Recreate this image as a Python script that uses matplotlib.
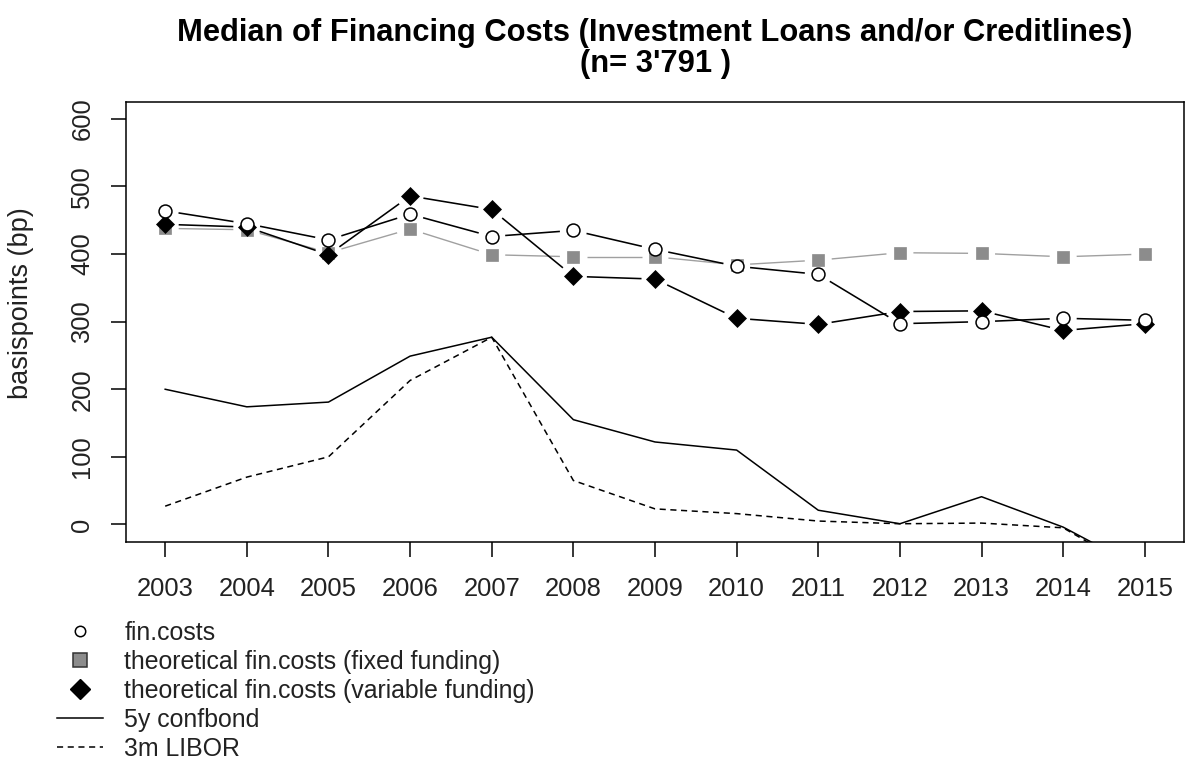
import numpy as np
import matplotlib
matplotlib.use("Agg")
import matplotlib.pyplot as plt
from matplotlib.lines import Line2D

plt.rcParams['font.family'] = ['Liberation Sans', 'DejaVu Sans']

# median costs per year, in basis points
years = list(range(2003, 2016))
fin_costs = [464, 445, 421, 459, 426, 435, 407, 382, 370, 297, 300, 305, 302]
fixed_funding = [438, 436, 402, 437, 399, 396, 396, 384, 391, 402, 401, 396, 400]
variable_funding = [444, 440, 399, 486, 466, 367, 363, 305, 296, 315, 316, 287, 297]
confbond_5y = [200, 174, 181, 249, 277, 155, 122, 110, 21, 1, 41, -4, -68]
libor_3m = [27, 70, 100, 213, 277, 65, 23, 16, 5, 1, 2, -5, -75]

labels = ["fin.costs",
          "theoretical fin.costs (fixed funding)",
          "theoretical fin.costs (variable funding)",
          "5y confbond",
          "3m LIBOR"]
y_ticks = [0, 100, 200, 300, 400, 500, 600]

GRAY = '#8c8c8c'
FS = 18.4

W, H = 1187, 767
fig = plt.figure(figsize=(W / 100, H / 100), dpi=100)
ax = fig.add_axes([126 / W, 1 - 542 / H, (1184 - 126) / W, (542 - 102) / H])
ax.set_xlim(2002.52, 2015.48)
ax.set_ylim(-26, 625)


def line_with_gaps(ax, x, y, gap_px, **kw):
    # "both" style: segments stop short of each point
    pts = ax.transData.transform(np.column_stack([x, y]))
    inv = ax.transData.inverted()
    for p0, p1 in zip(pts[:-1], pts[1:]):
        d = p1 - p0
        length = np.hypot(*d)
        if length <= 2 * gap_px:
            continue
        u = d / length
        seg = inv.transform(np.vstack([p0 + u * gap_px, p1 - u * gap_px]))
        ax.plot(seg[:, 0], seg[:, 1], solid_capstyle='butt', **kw)


ax.plot(years, confbond_5y, color='black', lw=1.1)
ax.plot(years, libor_3m, color='black', lw=1.1, ls=(0, (4, 3)))

line_with_gaps(ax, years, fixed_funding, 13.5, color='#a0a0a0', lw=1.0)
ax.plot(years, fixed_funding, ls='none', marker='s', ms=8.4,
        mfc=GRAY, mec=GRAY, mew=0.5)

line_with_gaps(ax, years, variable_funding, 13.5, color='black', lw=1.15)
ax.plot(years, variable_funding, ls='none', marker='D', ms=8.8,
        mfc='black', mec='black', mew=0.5)

line_with_gaps(ax, years, fin_costs, 13.5, color='black', lw=1.15)
ax.plot(years, fin_costs, ls='none', marker='o', ms=9.3,
        mfc='white', mec='black', mew=1.1)

ax.set_xticks(years)
ax.set_xticklabels([str(y) for y in years])
ax.set_yticks(y_ticks)
ax.set_yticklabels([str(v) for v in y_ticks], rotation=90, va='center')
ax.tick_params(axis='both', direction='out', length=10.8, width=1.1,
               labelsize=FS, color='black', labelcolor='#222222')
ax.tick_params(axis='x', pad=14.5)
ax.tick_params(axis='y', pad=12)
for sp in ax.spines.values():
    sp.set_linewidth(1.1)

ax.set_ylabel("basispoints (bp)", fontsize=19.5, color='#222222')
ax.yaxis.set_label_coords((34 - 126) / 1058, (542 - 303) / 440)

fig.text(655 / W, 1 - 33 / H,
         "Median of Financing Costs (Investment Loans and/or Creditlines)",
         ha='center', va='center', fontsize=22.2, fontweight='bold')
fig.text(655 / W, 1 - 64 / H, "(n= 3'791 )",
         ha='center', va='center', fontsize=22.2, fontweight='bold')

handles = [
    Line2D([], [], ls='none', marker='o', mfc='white', mec='black', ms=7.5, mew=1.1),
    Line2D([], [], ls='none', marker='s', mfc=GRAY, mec='#333333', ms=10, mew=1.1),
    Line2D([], [], ls='none', marker='D', mfc='black', mec='black', ms=10),
    Line2D([], [], color='black', lw=1.1),
    Line2D([], [], color='black', lw=1.1, ls=(0, (4, 3))),
]
fig.legend(handles, labels, loc='upper left', bbox_to_anchor=(57 / W, 1 - 621 / H),
           frameon=False, fontsize=17.9, handlelength=1.85, handletextpad=0.86,
           labelspacing=0.2, borderpad=0, borderaxespad=0, labelcolor='#222222')

fig.savefig("out.png", dpi=100, facecolor='white')
